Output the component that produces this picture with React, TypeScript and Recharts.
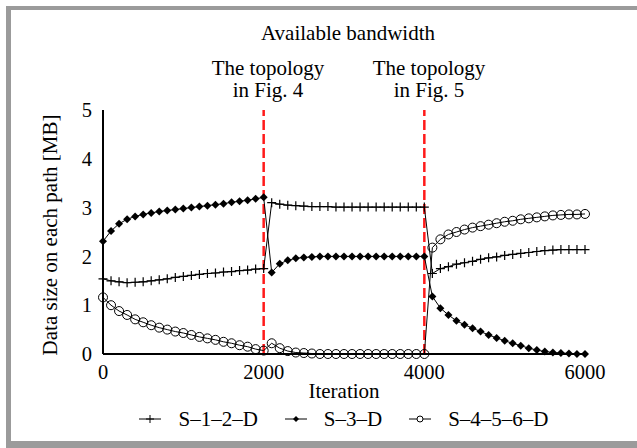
import React from 'react';
import { LineChart, Line, XAxis, YAxis, ReferenceLine } from 'recharts';

const iterations = [
  0, 100, 200, 300, 400, 500, 600, 700, 800, 900, 1000, 1100, 1200, 1300, 1400, 1500, 1600, 1700, 1800, 1900, 2000,
  2100, 2200, 2300, 2400, 2500, 2600, 2700, 2800, 2900, 3000, 3100, 3200, 3300, 3400, 3500, 3600, 3700, 3800, 3900, 4000,
  4100, 4200, 4300, 4400, 4500, 4600, 4700, 4800, 4900, 5000, 5100, 5200, 5300, 5400, 5500, 5600, 5700, 5800, 5900, 6000,
];

const s12 = [
  1.54, 1.50, 1.48, 1.46, 1.47, 1.48, 1.50, 1.52, 1.54, 1.57, 1.59, 1.61, 1.63, 1.65, 1.66, 1.68, 1.69, 1.71, 1.72, 1.74, 1.75,
  3.10, 3.07, 3.05, 3.04, 3.03, 3.02, 3.02, 3.02, 3.01, 3.01, 3.01, 3.01, 3.01, 3.01, 3.01, 3.01, 3.01, 3.01, 3.01, 3.01,
  1.65, 1.75, 1.79, 1.84, 1.87, 1.90, 1.94, 1.97, 1.99, 2.02, 2.04, 2.06, 2.08, 2.10, 2.12, 2.13, 2.14, 2.14, 2.14, 2.14,
];

const s3 = [
  2.31, 2.52, 2.67, 2.76, 2.82, 2.86, 2.89, 2.92, 2.94, 2.96, 2.98, 3.00, 3.02, 3.04, 3.06, 3.08, 3.11, 3.13, 3.15, 3.18, 3.21,
  1.67, 1.85, 1.92, 1.96, 1.98, 1.99, 2.00, 2.00, 2.00, 2.00, 2.00, 2.00, 2.00, 2.00, 2.00, 2.00, 2.00, 2.00, 2.00, 2.00,
  1.18, 0.94, 0.80, 0.68, 0.60, 0.53, 0.46, 0.39, 0.33, 0.27, 0.22, 0.17, 0.12, 0.08, 0.05, 0.03, 0.02, 0.01, 0.00, 0.00,
];

const s456 = [
  1.16, 1.00, 0.88, 0.80, 0.71, 0.65, 0.59, 0.54, 0.50, 0.46, 0.43, 0.39, 0.35, 0.32, 0.29, 0.25, 0.22, 0.18, 0.15, 0.10, 0.07,
  0.22, 0.12, 0.06, 0.03, 0.02, 0.01, 0.00, 0.00, 0.00, 0.00, 0.00, 0.00, 0.00, 0.00, 0.00, 0.00, 0.00, 0.00, 0.00, 0.00,
  2.18, 2.35, 2.45, 2.50, 2.55, 2.59, 2.62, 2.65, 2.68, 2.71, 2.73, 2.76, 2.78, 2.80, 2.82, 2.84, 2.85, 2.86, 2.86, 2.87,
];

const xTicks = [0, 2000, 4000, 6000];
const yTicks = [0, 1, 2, 3, 4, 5];
const seriesNames = ['S–1–2–D', 'S–3–D', 'S–4–5–6–D'];
const phaseBoundaries = [2000, 4000];
const titleText = 'Available bandwidth';
const phaseLabels = [
  ['The topology', 'in Fig. 4'],
  ['The topology', 'in Fig. 5'],
];
const xLabel = 'Iteration';
const yLabel = 'Data size on each path [MB]';

const data = iterations.map((x, i) => ({ x, s12: s12[i], s3: s3[i], s456: s456[i] }));

const FONT = "'Liberation Serif', 'Times New Roman', serif";
const GRAY = '#9b9b9b';

const PlusDot = (p: any) => {
  const { cx, cy, index } = p;
  if (cx == null || cy == null) return <g key={`p-${index}`} />;
  return (
    <path key={`p-${index}`} d={`M${cx - 4.5},${cy}h9M${cx},${cy - 4.5}v9`} stroke="#000" strokeWidth={1.2} fill="none" />
  );
};
const DiamondDot = (p: any) => {
  const { cx, cy, index } = p;
  if (cx == null || cy == null) return <g key={`d-${index}`} />;
  return <path key={`d-${index}`} d={`M${cx},${cy - 4}l4,4l-4,4l-4,-4z`} fill="#000" stroke="none" />;
};
const CircleDot = (p: any) => {
  const { cx, cy, index } = p;
  if (cx == null || cy == null) return <g key={`c-${index}`} />;
  return <circle key={`c-${index}`} cx={cx} cy={cy} r={4.5} fill="none" stroke="#000" strokeWidth={1} />;
};

const legendIcons = [
  (
    <svg width={22} height={12} key="i0">
      <line x1={0} y1={6} x2={22} y2={6} stroke="#000" strokeWidth={1} />
      <path d="M11,2v8M7,6h8" stroke="#000" strokeWidth={1} />
    </svg>
  ),
  (
    <svg width={22} height={12} key="i1">
      <line x1={0} y1={6} x2={22} y2={6} stroke="#000" strokeWidth={1} />
      <path d="M11,3l3,3l-3,3l-3,-3z" fill="#000" />
    </svg>
  ),
  (
    <svg width={22} height={12} key="i2">
      <line x1={0} y1={6} x2={22} y2={6} stroke="#000" strokeWidth={1} />
      <circle cx={11} cy={6} r={3} fill="#fff" stroke="#000" strokeWidth={1} />
    </svg>
  ),
];

const textStyle: React.CSSProperties = {
  position: 'absolute',
  fontFamily: FONT,
  fontSize: 21,
  lineHeight: '22px',
  color: '#000',
  textAlign: 'center',
  whiteSpace: 'nowrap',
};

export default function App() {
  const tickStyle = { fontFamily: FONT, fontSize: 20.5, fill: '#000' };
  return (
    <div style={{ position: 'absolute', left: 0, top: 0, width: 637, height: 448, overflow: 'hidden', background: '#fff' }}>
      {/* frame */}
      <div style={{ position: 'absolute', left: 6, top: 6, width: 631, height: 4, background: GRAY }} />
      <div style={{ position: 'absolute', left: 6, top: 6, width: 5, height: 442, background: GRAY }} />
      <div style={{ position: 'absolute', left: 6, top: 441, width: 631, height: 7, background: GRAY }} />

      <div style={{ position: 'absolute', left: 0, top: 0 }}>
        <LineChart width={637} height={448} data={data} margin={{ top: 110, right: 52, bottom: 64, left: 0 }}>
          <XAxis
            dataKey="x"
            type="number"
            domain={[0, 6000]}
            ticks={xTicks}
            tick={tickStyle}
            tickLine={false}
            tickSize={0}
            tickMargin={10}
            height={30}
            axisLine={{ stroke: '#000', strokeWidth: 2 }}
            interval={0}
          />
          <XAxis
            xAxisId="top"
            orientation="top"
            dataKey="x"
            type="number"
            domain={[0, 6000]}
            tick={false}
            tickLine={false}
            height={0}
            axisLine={{ stroke: '#000', strokeWidth: 2 }}
          />
          <YAxis
            type="number"
            domain={[0, 5]}
            ticks={yTicks}
            tick={tickStyle}
            tickLine={false}
            tickSize={0}
            tickMargin={11}
            width={103}
            axisLine={{ stroke: '#000', strokeWidth: 2 }}
            interval={0}
          />
          <YAxis
            yAxisId="right"
            orientation="right"
            type="number"
            domain={[0, 5]}
            tick={false}
            tickLine={false}
            width={0}
            axisLine={{ stroke: '#000', strokeWidth: 2 }}
          />
          {phaseBoundaries.map((b) => (
            <ReferenceLine key={b} x={b} stroke="#ff1a1a" strokeWidth={2.5} strokeDasharray="10 4" />
          ))}
          <Line dataKey="s12" name={seriesNames[0]} stroke="#000" strokeWidth={1} dot={PlusDot} activeDot={false} isAnimationActive={false} />
          <Line dataKey="s3" name={seriesNames[1]} stroke="#000" strokeWidth={1} dot={DiamondDot} activeDot={false} isAnimationActive={false} />
          <Line dataKey="s456" name={seriesNames[2]} stroke="#000" strokeWidth={1} dot={CircleDot} activeDot={false} isAnimationActive={false} />
        </LineChart>
      </div>

      {/* titles */}
      <div style={{ ...textStyle, left: 198, width: 300, top: 22 }}>{titleText}</div>
      <div style={{ ...textStyle, left: 118, width: 300, top: 57 }}>{phaseLabels[0][0]}</div>
      <div style={{ ...textStyle, left: 118, width: 300, top: 79 }}>{phaseLabels[0][1]}</div>
      <div style={{ ...textStyle, left: 279, width: 300, top: 57 }}>{phaseLabels[1][0]}</div>
      <div style={{ ...textStyle, left: 279, width: 300, top: 79 }}>{phaseLabels[1][1]}</div>

      {/* axis titles */}
      <div style={{ ...textStyle, left: 194, width: 300, top: 380 }}>{xLabel}</div>
      <div
        style={{
          ...textStyle,
          left: 50 - 150,
          width: 300,
          top: 235 - 11,
          transform: 'rotate(-90deg)',
          transformOrigin: '150px 11px',
        }}
      >
        {yLabel}
      </div>

      {/* legend */}
      <div
        style={{
          position: 'absolute',
          left: 103,
          width: 482,
          top: 408,
          display: 'flex',
          justifyContent: 'center',
          alignItems: 'center',
          fontFamily: FONT,
          fontSize: 21,
          lineHeight: '22px',
        }}
      >
        {seriesNames.map((n, i) => (
          <div key={n} style={{ display: 'flex', alignItems: 'center', marginLeft: i === 0 ? 0 : 27 }}>
            {legendIcons[i]}
            <span style={{ marginLeft: 17 }}>{n}</span>
          </div>
        ))}
      </div>
    </div>
  );
}
